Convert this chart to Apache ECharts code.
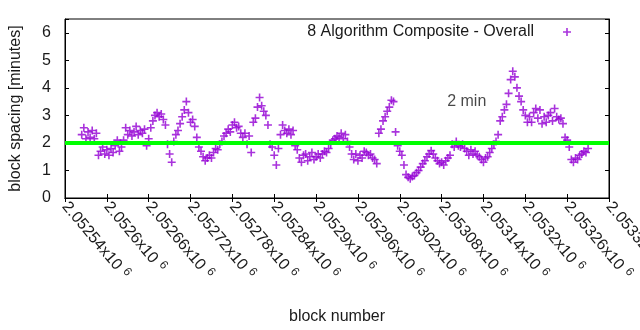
<!DOCTYPE html>
<html>
<head>
<meta charset="utf-8">
<script src="https://cdn.jsdelivr.net/npm/echarts@6/dist/echarts.min.js"></script>
<style>
  html, body { margin: 0; padding: 0; background: #fff; }
  #chart { width: 640px; height: 330px; }
</style>
</head>
<body>
<div id="chart"></div>
<script>
// Block spacing (minutes), one reading every BLOCK_STEP blocks starting at FIRST_BLOCK
const FIRST_BLOCK = 2052564;
const BLOCK_STEP = 3;
const spacing = [
  2.3, 2.55, 2.15, 2.4, 2.2, 2.45, 2.15, 2.35,
  1.55, 1.7,
  1.85, 1.6, 1.75, 1.55, 1.8, 1.65, 1.9, 2.1, 1.7, 1.85, 2.1,
  2.55, 2.3, 2.45, 2.25, 2.4, 2.6, 2.3, 2.45, 2.35, 2.5,
  1.9, 2.15,
  2.55, 2.8, 3.0, 3.1, 2.95, 3.05, 2.85, 2.65,
  1.95, 1.6, 1.3,
  2.05, 2.3, 2.45,
  2.7, 2.95, 3.2, 3.5, 3.1, 2.75, 2.85, 2.6,
  2.2, 1.85, 1.7, 1.5, 1.35, 1.45, 1.55, 1.45, 1.65, 1.8, 1.75, 1.95,
  2.05, 2.25, 2.35, 2.5, 2.4, 2.65, 2.75, 2.55, 2.6, 2.35, 2.2, 2.35, 1.95, 2.25,
  1.65, 2.75, 2.9, 3.3, 3.65, 3.35, 3.15, 3.0, 2.65, 1.95, 1.85, 1.55, 1.2, 1.8,
  2.3, 2.65, 2.45, 2.35, 2.5, 2.3, 2.45, 1.9, 1.75, 1.45, 1.3, 1.55, 1.6, 1.35,
  1.5, 1.65, 1.4, 1.5, 1.6, 1.45, 1.6, 1.7, 1.65, 1.8, 1.95, 2.1, 2.15, 2.25,
  2.2, 2.35, 2.15, 2.3, 2.05, 1.85, 1.6, 1.4, 1.6, 1.35, 1.55, 1.45, 1.7, 1.65,
  1.55, 1.6, 1.45, 1.4, 1.25, 2.35, 2.5, 2.8, 2.95, 3.15, 3.3, 3.55, 3.5,
  2.4, 1.9, 1.7, 1.55, 1.2, 0.85, 0.75, 0.7, 0.78, 0.82, 0.92, 1.0, 1.12, 1.25,
  1.35, 1.5, 1.6, 1.72, 1.6, 1.45, 1.35, 1.25, 1.3, 1.2, 1.35, 1.45, 1.55,
  1.95, 1.85, 2.05, 1.9, 1.85, 1.95, 1.8, 1.7, 1.55, 1.75, 1.6, 1.7, 1.55, 1.5,
  1.4, 1.3, 1.45, 1.5, 1.65, 1.8, 1.95, 2.05, 2.3,
  2.8, 2.95, 3.2, 3.4, 3.8, 4.3, 4.6, 4.4, 4.0, 3.7, 3.5, 3.2, 3.0, 2.75,
  2.95, 2.75, 3.1, 3.25, 2.9, 3.2, 2.7, 2.95, 2.75, 3.0, 3.1, 2.8, 3.25, 2.95,
  2.85, 2.9, 2.7, 2.2, 2.1, 1.85, 1.4, 1.3, 1.45, 1.4, 1.55, 1.6, 1.7, 1.65, 1.8
];

// Axis ranges and the 2-minute target
const X_MIN = 2052540, X_MAX = 2053320, X_TICK = 60;
const Y_MIN = 0, Y_MAX = 6.5, Y_TICK = 1;
const TARGET = 2;
const TARGET_LABEL = '2 min';
const TARGET_LABEL_AT = [2053088, 3.5];
const SERIES_NAME = '8 Algorithm Composite - Overall';

const FONT = '"Liberation Sans", Arial, sans-serif';
const TEXT = '#1a1a1a';
const PURPLE = '#9400d3';
// "+" glyph: two crossing bars on an 8x8 box
const PLUS = 'path://M3.2,0h1.6v3.2h3.2v1.6h-3.2v3.2h-1.6v-3.2h-3.2v-1.6h3.2z';

const points = spacing.map((v, i) => [FIRST_BLOCK + i * BLOCK_STEP, v]);

function mantissa(v) {
  return String(parseFloat((v / 1e6).toFixed(6)));
}

const chart = echarts.init(document.getElementById('chart'), null, { renderer: 'canvas' });

const mirrorTick = { show: true, inside: true, length: 4, lineStyle: { color: '#000', width: 1 } };

chart.setOption({
  animation: false,
  backgroundColor: '#fff',
  textStyle: { fontFamily: FONT },
  grid: {
    left: 65, right: 31, top: 19, bottom: 132,
    outerBoundsMode: 'none', containLabel: false,
    show: true, borderColor: '#000', borderWidth: 1, backgroundColor: 'transparent'
  },
  legend: {
    show: true,
    data: [{ name: SERIES_NAME, icon: PLUS }],
    right: 69, top: 24, padding: 0,
    align: 'right',
    itemWidth: 8, itemHeight: 8,
    selectedMode: false,
    textStyle: { fontFamily: FONT, fontSize: 16, color: TEXT, padding: [0, 24, 0, 0] }
  },
  xAxis: [{
    type: 'value', min: X_MIN, max: X_MAX, interval: X_TICK,
    position: 'bottom',
    name: 'block number', nameLocation: 'middle', nameGap: 111,
    nameTextStyle: { fontFamily: FONT, fontSize: 16, color: TEXT },
    axisLine: { show: true, onZero: false, lineStyle: { color: '#000', width: 1 } },
    axisTick: mirrorTick,
    splitLine: { show: false },
    axisLabel: {
      show: true, rotate: -50, margin: 6, interval: 0,
      hideOverlap: false, showMinLabel: true, showMaxLabel: true,
      fontFamily: FONT, fontSize: 16, color: TEXT,
      formatter: v => mantissa(v) + 'x10{sup|6}',
      rich: { sup: { fontSize: 12, padding: [0, 0, 8, 5], fontFamily: FONT, color: TEXT } }
    }
  }, {
    type: 'value', min: X_MIN, max: X_MAX, interval: X_TICK,
    position: 'top',
    axisLine: { show: true, lineStyle: { color: '#000' } },
    axisTick: mirrorTick, axisLabel: { show: false }, splitLine: { show: false }
  }],
  yAxis: [{
    type: 'value', min: Y_MIN, max: Y_MAX, interval: Y_TICK,
    position: 'left',
    name: 'block spacing [minutes]', nameLocation: 'middle', nameGap: 41, nameRotate: 90,
    nameTextStyle: { fontFamily: FONT, fontSize: 16, color: TEXT },
    axisLine: { show: true, onZero: false, lineStyle: { color: '#000', width: 1 } },
    axisTick: mirrorTick,
    splitLine: { show: false },
    axisLabel: {
      margin: 14, fontFamily: FONT, fontSize: 16, color: TEXT,
      formatter: v => (Number.isInteger(v) ? String(v) : '')
    }
  }, {
    type: 'value', min: Y_MIN, max: Y_MAX, interval: Y_TICK,
    position: 'right',
    axisLine: { show: true, lineStyle: { color: '#000' } },
    axisTick: mirrorTick, axisLabel: { show: false }, splitLine: { show: false }
  }],
  series: [{
    name: SERIES_NAME,
    type: 'scatter',
    symbol: PLUS, symbolSize: 8,
    itemStyle: { color: PURPLE },
    data: points,
    z: 2
  }, {
    name: 'target',
    type: 'line',
    data: [[X_MIN, TARGET], [X_MAX, TARGET]],
    showSymbol: false, symbol: 'none',
    lineStyle: { color: '#00ff00', width: 4 },
    z: 3, silent: true
  }, {
    name: 'target label',
    type: 'scatter',
    data: [TARGET_LABEL_AT],
    symbolSize: 0,
    silent: true,
    label: {
      show: true, position: [0, 0], align: 'left', verticalAlign: 'middle',
      formatter: TARGET_LABEL, fontFamily: FONT, fontSize: 16, color: TEXT
    }
  }]
});
</script>
</body>
</html>
